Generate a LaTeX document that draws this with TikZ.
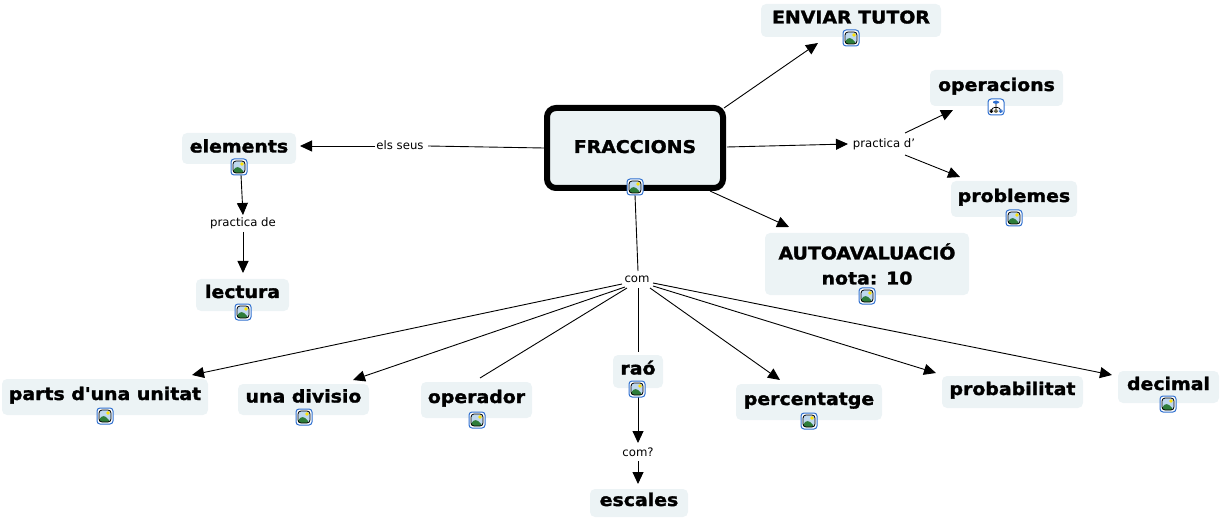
\documentclass[tikz,border=0pt]{standalone}
\usepackage{fontspec}
\setmainfont{DejaVu Sans}
\newfontfamily\heavyfont[FakeBold=1.6,FakeStretch=1.08]{DejaVu Sans Bold}
\usetikzlibrary{arrows.meta,calc}
\definecolor{boxfill}{HTML}{ECF3F5}
\definecolor{iconblue}{HTML}{2F6FCF}
\definecolor{iconsky}{HTML}{BFD8EE}
\definecolor{icongreen}{HTML}{2E7D3A}
\tikzset{
  concept/.style={fill=boxfill,rounded corners=5pt,inner sep=0pt,align=center,
    font=\heavyfont\fontsize{17.5}{17.5}\selectfont,text=black},
  bl3/.style={text height=10pt,text depth=4pt},
  bl4/.style={text height=11pt,text depth=3pt},
  bl5/.style={text height=12pt,text depth=2pt},
  main/.style={concept,draw=black,line width=6pt,rounded corners=9pt},
  link/.style={inner sep=1pt,font=\fontsize{11.7}{13}\selectfont,text=black,text height=10pt,text depth=2pt},
  conn/.style={draw=black,line width=0.9pt},
  arr/.style={conn,-{Triangle[length=12pt,width=11pt]}},
  iconbox/.style={draw=iconblue,line width=1pt,fill=white,rounded corners=3pt,
    minimum size=16pt,inner sep=0pt},
  imgicon/.style={iconbox,path picture={
    \coordinate (tc) at (path picture bounding box.center);
    \fill[iconsky] ($(tc)+(-6,-6)$) rectangle ($(tc)+(6,6)$);
    \fill[yellow!85!orange] ($(tc)+(3,-3)$) circle (1.8);
    \fill[icongreen] ($(tc)+(-6,6)$) -- ($(tc)+(-6,2.5)$) -- ($(tc)+(-1,-1)$) -- ($(tc)+(6,6)$) -- cycle;
    \draw[black,line width=0.8pt] ($(tc)+(-6,-6)$) rectangle ($(tc)+(6,6)$);
  }},
  treeicon/.style={iconbox,path picture={
    \coordinate (tc) at (path picture bounding box.center);
    \draw[black,line width=0.7pt] ($(tc)+(0,-3)$) -- ($(tc)+(0,3)$) ($(tc)+(-4.5,3)$) -- ($(tc)+(-4.5,0.5)$) -- ($(tc)+(4.5,0.5)$) -- ($(tc)+(4.5,3)$);
    \fill[iconblue] ($(tc)+(-3,-6.5)$) rectangle ($(tc)+(3,-3)$);
    \fill[black] ($(tc)+(-6.5,2.5)$) rectangle ($(tc)+(-2.8,6)$);
    \fill[black!70!yellow] ($(tc)+(-1.8,2.5)$) rectangle ($(tc)+(1.8,6)$);
    \fill[iconblue] ($(tc)+(2.8,2.5)$) rectangle ($(tc)+(6.5,6)$);
  }}
}
\begin{document}
\begin{tikzpicture}[x=1pt,y=-1pt]
\useasboundingbox (0,0) rectangle (1223,521);
% concepts
\node[concept,bl3,minimum width=180pt,minimum height=33pt] (env) at (851,20.5) {ENVIAR TUTOR};
\node[concept,bl3,minimum width=133pt,minimum height=36pt] (oper) at (996.5,88) {operacions};
\node[concept,bl3,minimum width=126pt,minimum height=36pt] (prob) at (1014,199) {problemes};
\node[concept,minimum width=204pt,minimum height=62pt] (auto) at (867,264) {AUTOAVALUACIÓ\\[7.5pt]nota: 10};
\node[main,bl5,minimum width=176pt,minimum height=80pt] (fr) at (635,148) {FRACCIONS};
\node[concept,bl4,minimum width=114pt,minimum height=31pt] (elem) at (239,148.5) {elements};
\node[concept,bl3,minimum width=93pt,minimum height=32pt] (lect) at (242.5,295) {lectura};
\node[concept,bl3,minimum width=206pt,minimum height=36pt] (parts) at (105,397) {parts d'una unitat};
\node[concept,bl3,minimum width=131pt,minimum height=31pt] (div) at (303.5,399.5) {una divisio};
\node[concept,bl3,minimum width=111pt,minimum height=36pt] (opd) at (476.5,400) {operador};
\node[concept,bl3,minimum width=50pt,minimum height=33pt] (rao) at (638,371.5) {raó};
\node[concept,bl3,minimum width=146pt,minimum height=36pt] (perc) at (809,402) {percentatge};
\node[concept,bl3,minimum width=141pt,minimum height=32pt] (pbt) at (1012.5,392) {probabilitat};
\node[concept,bl3,minimum width=101pt,minimum height=32pt] (dec) at (1168.5,387) {decimal};
\node[concept,bl3,minimum width=98pt,minimum height=28pt] (esc) at (639,503) {escales};
% link labels
\node[link] (els) at (400,145.5) {els seus};
\node[link] (pd) at (884,143.5) {practica d\symbol{39}};
\node[link] (pde) at (243,223) {practica de};
\node[link] (com) at (637,279) {com};
\node[link] (comq) at (638,452) {com?};
% connectors
\draw[arr] ($(fr)+(89,-40)$) -- ($(env)+(-33,22.5)$);
\draw[arr] ($(fr)+(92,-1)$) -- ($(pd)+(-36,0.5)$);
\draw[arr] ($(pd)+(21,-10.5)$) -- ($(oper)+(-43.5,22)$);
\draw[arr] ($(pd)+(21,11.5)$) -- ($(prob)+(-54,-22)$);
\draw[arr] ($(fr)+(75,43)$) -- ($(auto)+(-78,-37)$);
\draw[conn] ($(fr)+(-91,0)$) -- ($(els)+(28,0.5)$);
\draw[arr] ($(els)+(-25,0.5)$) -- ($(elem)+(61,-2.5)$);
\draw[arr] ($(elem)+(2,26.5)$) -- ($(pde)+(0,-8)$);
\draw[arr] ($(pde)+(0,9)$) -- ($(lect)+(0.5,-22)$);
\draw[conn] ($(fr)+(0,47)$) -- ($(com)+(1,-8)$);
\draw[arr] ($(com)+(-15,5)$) -- ($(parts)+(87,-22)$);
\draw[arr] ($(com)+(-12,8)$) -- ($(div)+(49.5,-19.5)$);
\draw[conn] ($(com)+(-10,9)$) -- ($(opd)+(3.5,-22)$);
\draw[conn] ($(com)+(1,9)$) -- ($(rao)+(0,-19.5)$);
\draw[arr] ($(com)+(13,9)$) -- ($(perc)+(-29,-22)$);
\draw[arr] ($(com)+(16,7)$) -- ($(pbt)+(-76.5,-19)$);
\draw[arr] ($(com)+(16,4)$) -- ($(dec)+(-56.5,-12)$);
\draw[arr] ($(rao)+(0,25.5)$) -- ($(comq)+(0,-9)$);
\draw[arr] ($(comq)+(0,9)$) -- ($(esc)+(-1,-19)$);
% icons
\node[imgicon] (i1) at (851,38) {};
\node[treeicon] (i2) at (996,107) {};
\node[imgicon] (i3) at (1014,218) {};
\node[imgicon] (i4) at (867,296) {};
\node[imgicon] (i5) at (635,187) {};
\node[imgicon] (i6) at (239,167) {};
\node[imgicon] (i7) at (243,312) {};
\node[imgicon] (i8) at (105,416) {};
\node[imgicon] (i9) at (304,417) {};
\node[imgicon] (i10) at (477,420) {};
\node[imgicon] (i11) at (637,389) {};
\node[imgicon] (i12) at (809,421) {};
\node[imgicon] (i13) at (1168,404) {};
\end{tikzpicture}
\end{document}
